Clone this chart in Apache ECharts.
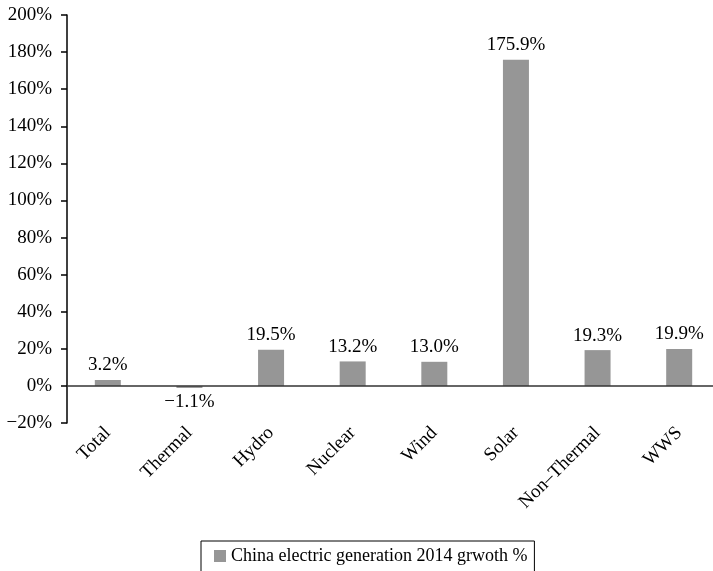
<!DOCTYPE html>
<html><head><meta charset="utf-8">
<script src="https://cdn.jsdelivr.net/npm/echarts@6/dist/echarts.min.js"></script>
<style>html,body{margin:0;padding:0;background:#fff;overflow:hidden}#c{width:730px;height:571px}</style>
</head><body><div id="c"></div>
<script>
const categories = ['Total','Thermal','Hydro','Nuclear','Wind','Solar','Non\u2013Thermal','WWS'];
const growth = [3.2, -1.1, 19.5, 13.2, 13.0, 175.9, 19.3, 19.9];
const seriesName = 'China electric generation 2014 grwoth %';
const yMin = -20, yMax = 200, yStep = 20;

const F = 'Liberation Serif';
const chart = echarts.init(document.getElementById('c'));
const fmt = v => (v < 0 ? '\u2212' + Math.abs(v) : String(v));
chart.setOption({
  animation: false,
  textStyle: {fontFamily: F},
  grid: {left: 67, top: 15, width: 653, bottom: 148},
  legend: {
    data: [seriesName], left: 201, top: 541, icon: 'rect', itemWidth: 12, itemHeight: 12,
    borderColor: '#000', borderWidth: 1, padding: [6, 7, 12, 13], itemGap: 4,
    textStyle: {fontFamily: F, fontSize: 18, color: '#000'}
  },
  xAxis: {
    type: 'category', data: categories,
    axisLine: {show: false}, axisTick: {show: false},
    axisLabel: {rotate: 45, margin: 7, fontFamily: F, fontSize: 19, color: '#000', interval: 0}
  },
  yAxis: {
    type: 'value', min: yMin, max: yMax, interval: yStep,
    axisLine: {show: true, lineStyle: {color: '#000', width: 1.5}},
    axisTick: {show: true, length: 6, lineStyle: {color: '#000', width: 1.5}},
    splitLine: {show: false},
    axisLabel: {formatter: v => fmt(v) + '%', margin: 15, fontFamily: F, fontSize: 19, color: '#000'}
  },
  series: [{
    name: seriesName, type: 'bar', barWidth: 26,
    itemStyle: {color: '#969696'},
    data: growth.map(v => ({value: v, label: {position: v < 0 ? 'bottom' : 'top'}})),
    label: {show: true, fontFamily: F, fontSize: 19, color: '#000', distance: 5,
      formatter: p => fmt(p.value.toFixed(1)) + '%'},
    markLine: {silent: true, symbol: 'none', label: {show: false},
      lineStyle: {color: '#333', width: 1.5, type: 'solid'}, data: [{yAxis: 0}]}
  }]
});
</script></body></html>
